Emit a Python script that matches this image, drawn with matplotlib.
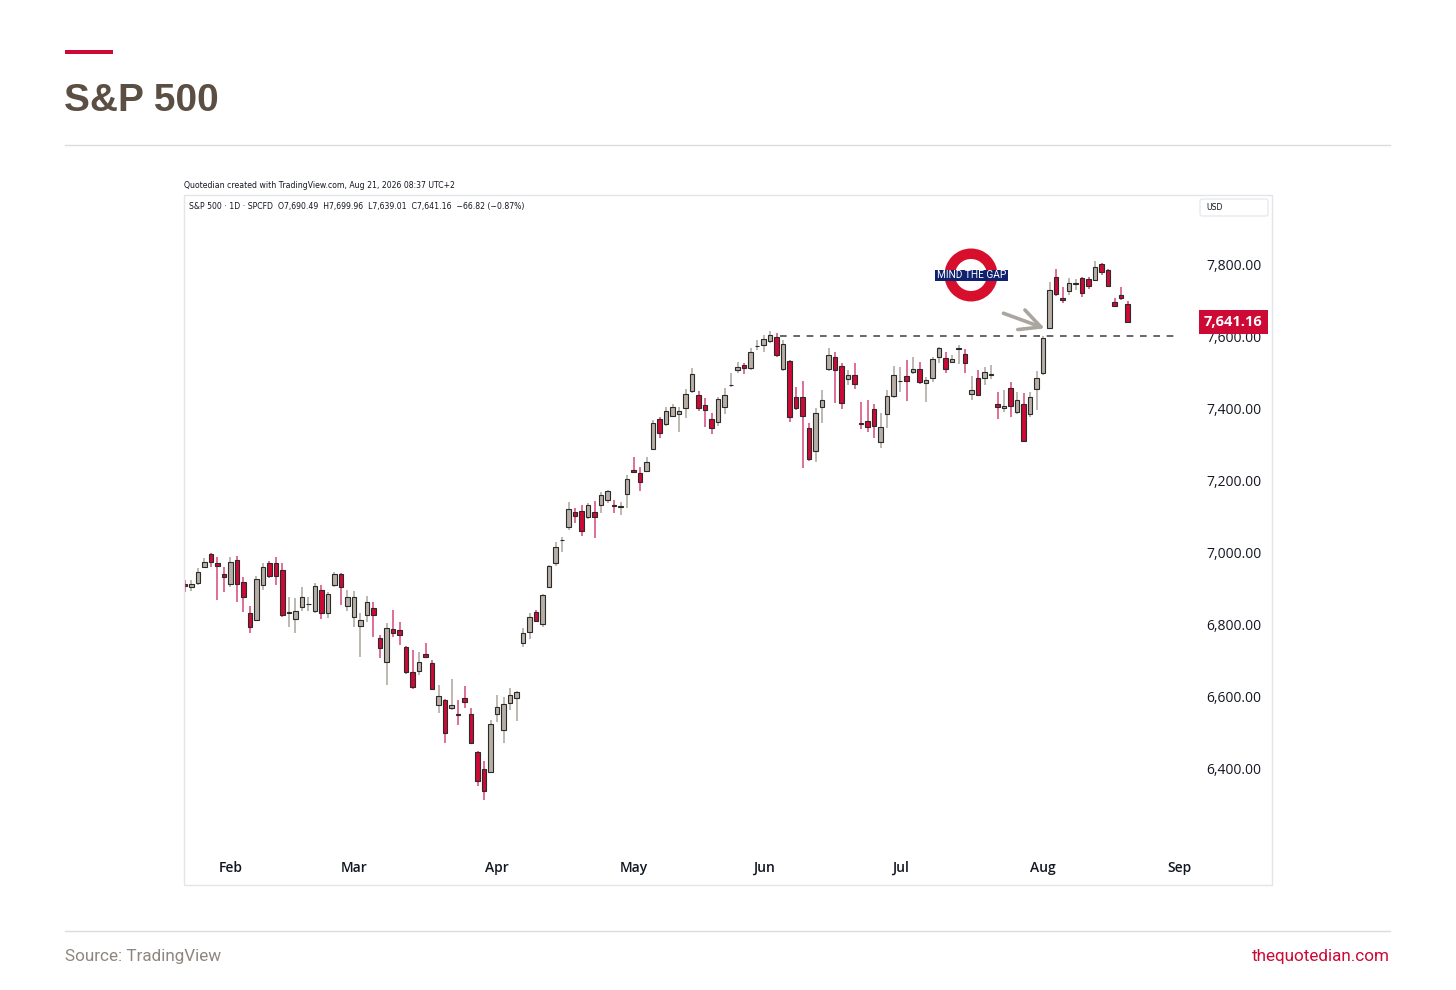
import matplotlib as mpl

mpl.use('agg')

import matplotlib.pyplot as plt
import matplotlib.patches as patches
import matplotlib.transforms as mtransforms
import pandas as pd

# daily candles, S&P 500 (SPCFD), 22 Jan - 20 Aug 2026
opens = [
    6915, 6905, 6918, 6960, 6997, 6973, 6943, 6913, 6980, 6920,
    6832, 6814, 6911, 6971, 6973, 6953, 6833, 6816, 6851, 6857,
    6839, 6897, 6832, 6910, 6942, 6853, 6821, 6797, 6828, 6847,
    6763, 6696, 6788, 6786, 6738, 6669, 6671, 6719, 6694, 6578,
    6592, 6570, 6553, 6597, 6553, 6448, 6400, 6393, 6553, 6508,
    6582, 6598, 6749, 6781, 6835, 6802, 6905, 6973, 7035, 7071,
    7113, 7117, 7099, 7115, 7132, 7147, 7133, 7129, 7164, 7231,
    7222, 7229, 7289, 7371, 7358, 7381, 7386, 7402, 7450, 7439,
    7410, 7371, 7365, 7405, 7466, 7507, 7522, 7515, 7574, 7578,
    7590, 7600, 7511, 7532, 7434, 7432, 7346, 7283, 7405, 7510,
    7544, 7519, 7483, 7494, 7361, 7368, 7399, 7308, 7386, 7436,
    7477, 7492, 7502, 7510, 7471, 7485, 7544, 7541, 7531, 7568,
    7553, 7442, 7485, 7485, 7495, 7414, 7402, 7458, 7391, 7414,
    7385, 7456, 7499, 7624, 7766, 7707, 7729, 7748, 7763, 7760,
    7758, 7802, 7785, 7697, 7716, 7690.49]
highs = [
    6925, 6925, 6957, 6985, 7000, 6990, 6962, 6990, 6992, 6934,
    6854, 6935, 6971, 6978, 6990, 6971, 6879, 6874, 6905, 6879,
    6916, 6911, 6893, 6948, 6945, 6897, 6895, 6832, 6881, 6865,
    6772, 6805, 6842, 6807, 6742, 6731, 6726, 6750, 6703, 6633,
    6595, 6650, 6592, 6631, 6569, 6450, 6423, 6536, 6606, 6599,
    6624, 6618, 6791, 6832, 6842, 6886, 6968, 7031, 7045, 7143,
    7124, 7133, 7138, 7144, 7170, 7176, 7147, 7143, 7217, 7268,
    7240, 7268, 7369, 7379, 7405, 7415, 7406, 7455, 7513, 7450,
    7430, 7388, 7432, 7457, 7499, 7531, 7529, 7569, 7592, 7606,
    7618, 7610, 7592, 7535, 7462, 7479, 7360, 7402, 7453, 7569,
    7559, 7527, 7508, 7527, 7420, 7425, 7414, 7388, 7453, 7519,
    7517, 7536, 7545, 7531, 7490, 7545, 7573, 7559, 7550, 7578,
    7566, 7492, 7508, 7517, 7522, 7448, 7453, 7476, 7448, 7444,
    7448, 7506, 7603, 7754, 7788, 7740, 7763, 7760, 7766, 7768,
    7812, 7806, 7788, 7707, 7738, 7699.96]
lows = [
    6893, 6895, 6911, 6957, 6962, 6869, 6893, 6905, 6865, 6837,
    6779, 6810, 6897, 6930, 6911, 6822, 6794, 6777, 6840, 6840,
    6832, 6817, 6820, 6905, 6856, 6840, 6795, 6710, 6809, 6768,
    6707, 6633, 6768, 6744, 6665, 6621, 6661, 6708, 6619, 6556,
    6472, 6564, 6522, 6569, 6471, 6353, 6314, 6390, 6531, 6473,
    6564, 6532, 6738, 6760, 6808, 6795, 6902, 6964, 7004, 7064,
    7082, 7047, 7095, 7043, 7110, 7140, 7110, 7106, 7124, 7222,
    7172, 7225, 7286, 7319, 7353, 7378, 7337, 7374, 7444, 7395,
    7351, 7331, 7353, 7386, 7462, 7499, 7497, 7508, 7564, 7559,
    7582, 7545, 7505, 7365, 7398, 7235, 7255, 7254, 7360, 7505,
    7416, 7399, 7467, 7455, 7344, 7337, 7319, 7291, 7346, 7430,
    7448, 7423, 7498, 7470, 7420, 7476, 7527, 7501, 7527, 7524,
    7499, 7425, 7435, 7467, 7483, 7371, 7393, 7377, 7385, 7308,
    7378, 7397, 7495, 7622, 7715, 7695, 7717, 7731, 7712, 7732,
    7755, 7772, 7738, 7684, 7702, 7639.01]
closes = [
    6909, 6914, 6946, 6975, 6974, 6965, 6934, 6974, 6914, 6877,
    6794, 6928, 6960, 6937, 6936, 6828, 6836, 6839, 6877, 6859,
    6907, 6832, 6886, 6943, 6905, 6877, 6877, 6814, 6865, 6828,
    6735, 6791, 6779, 6772, 6669, 6627, 6696, 6711, 6622, 6604,
    6501, 6578, 6551, 6587, 6473, 6367, 6340, 6524, 6572, 6580,
    6606, 6613, 6779, 6821, 6812, 6882, 6964, 7018, 7037, 7122,
    7104, 7060, 7133, 7101, 7160, 7171, 7131, 7131, 7205, 7224,
    7196, 7254, 7360, 7333, 7394, 7406, 7395, 7441, 7497, 7404,
    7397, 7348, 7428, 7439, 7468, 7516, 7515, 7557, 7576, 7594,
    7606, 7550, 7580, 7379, 7402, 7381, 7261, 7388, 7425, 7550,
    7507, 7416, 7494, 7469, 7359, 7351, 7353, 7349, 7436, 7494,
    7479, 7479, 7511, 7474, 7481, 7539, 7569, 7510, 7539, 7570,
    7529, 7453, 7438, 7504, 7497, 7405, 7408, 7408, 7424, 7312,
    7432, 7485, 7596, 7731, 7719, 7703, 7751, 7750, 7722, 7742,
    7794, 7780, 7742, 7686, 7707.98, 7641.16]

holidays = ['2026-02-16', '2026-04-03', '2026-05-25', '2026-06-19', '2026-07-03']
month_names = ['Feb', 'Mar', 'Apr', 'May', 'Jun', 'Jul', 'Aug', 'Sep']
price_ticks = [6400, 6600, 6800, 7000, 7200, 7400, 7600, 7800]
gap_level = 7603

RED = '#cc0a35'
GREY_UP = '#b7afa5'
TEXT = '#131722'

plt.rcParams['font.family'] = ['Open Sans', 'DejaVu Sans']

days = pd.bdate_range('2026-01-22', '2026-09-04', freq='C', holidays=holidays)
month_idx = [int(pd.Series(days.month).eq(m).idxmax()) for m in range(2, 10)]

fig = plt.figure(figsize=(14.56, 9.9), dpi=100)
fig.patch.set_facecolor('white')
# pixel coordinates, origin top-left
px = mtransforms.Affine2D().scale(0.01, -0.01).translate(0, 9.9) + fig.dpi_scale_trans

# page header / footer
fig.add_artist(patches.Rectangle((65, 50), 48, 4, transform=px, color=RED, lw=0))
fig.text(64, 101, 'S&P 500', transform=px, fontsize=28, fontweight='bold',
         color='#5b4e42', family='Liberation Sans', va='center')
fig.add_artist(plt.Line2D([65, 1390], [145, 145], transform=px, color='#dcdcdc', lw=1))
fig.add_artist(plt.Line2D([65, 1390], [931, 931], transform=px, color='#dcdcdc', lw=1))
fig.text(65, 957, 'Source: TradingView', transform=px, fontsize=12.3, color='#8f867d',
         family='Roboto', va='center')
fig.text(1390, 957, 'thequotedian.com', transform=px, fontsize=12.3, color=RED,
         family='Roboto', va='center', ha='right')

# chart frame
fig.add_artist(patches.Rectangle((184, 195), 1088, 690, transform=px, fill=False,
                                 ec='#e3e5ea', lw=1))
fig.text(184, 186, 'Quotedian created with TradingView.com, Aug 21, 2026 08:37 UTC+2',
         transform=px, fontsize=5.6, color=TEXT, family='DejaVu Sans', va='center')
chg = closes[-1] - closes[-2]
hdr = ('S&P 500 \u00b7 1D \u00b7 SPCFD  O{:,.2f}  H{:,.2f}  L{:,.2f}  C{:,.2f}  '
       '\u2212{:.2f} (\u2212{:.2f}%)').format(opens[-1], highs[-1], lows[-1], closes[-1],
                                             -chg, -chg / closes[-2] * 100)
fig.text(189, 206, hdr, transform=px, fontsize=5.6, color=TEXT, family='DejaVu Sans',
         va='center')
fig.add_artist(patches.FancyBboxPatch((1200, 199), 68, 17, transform=px,
                                      boxstyle='round,pad=0,rounding_size=2',
                                      fc='white', ec='#e3e5ea', lw=0.8))
fig.text(1206, 208, 'USD', transform=px, fontsize=5.6, color=TEXT, family='DejaVu Sans',
         va='center')

# main price axes
ax = fig.add_axes([184 / 1456, 1 - 850 / 990, 1006 / 1456, 655 / 990])
for s in ax.spines.values():
    s.set_visible(False)
ax.set_xlim(-0.15, 154.6)
ax.set_ylim(6175, 7994.4)

n = len(closes)
xs = list(range(n))
up = [c >= o for o, c in zip(opens, closes)]
wick_col = [('#aba59d' if u else '#d4487a') for u in up]
ax.vlines(xs, lows, highs, colors=wick_col, lw=1.1, zorder=2)
bottoms = [min(o, c) for o, c in zip(opens, closes)]
heights = [max(abs(c - o), 1.5) for o, c in zip(opens, closes)]
ax.bar(xs, heights, bottom=bottoms, width=0.7,
       color=[(GREY_UP if u else RED) for u in up],
       edgecolor='#2a2a2a', lw=0.8, zorder=3)

# gap level
ax.hlines(gap_level, 91.5, 152.3, colors='#4d4d4d', lw=1.2, linestyles=(0, (4, 4)),
          zorder=1)
ax.annotate('', xy=(133 - 0.75, opens[133]), xytext=(133 - 7.1, opens[133] + 42),
            arrowprops=dict(arrowstyle='->,head_length=1.5,head_width=0.75',
                            color='#aaa59f', lw=2.6, shrinkA=0, shrinkB=0), zorder=4)

# mind the gap roundel
fig.add_artist(patches.Annulus((971, 275), 26.5, 10.5, transform=px, color='#d70f2c', lw=0))
fig.add_artist(patches.Rectangle((935, 269.5), 73, 11, transform=px, fc='#10216d', lw=0))
fig.text(971.5, 275.5, 'MIND THE GAP', transform=px, fontsize=7.3, color='white',
         family='Roboto', ha='center', va='center')

# axes ticks
ax.yaxis.tick_right()
ax.set_yticks(price_ticks)
ax.set_yticklabels(['{:,.2f}'.format(p) for p in price_ticks])
ax.tick_params(axis='y', length=0, pad=11.5, labelsize=10, labelcolor=TEXT)
ax.set_xticks(month_idx)
ax.set_xticklabels(month_names, fontweight='semibold')
ax.tick_params(axis='x', length=0, pad=8, labelsize=10, labelcolor=TEXT)

ax.text(1.0 + 14 / 1006, closes[-1], '{:,.2f}'.format(closes[-1]),
        transform=mtransforms.blended_transform_factory(ax.transAxes, ax.transData),
        fontsize=10.5, fontweight='bold', color='white', va='center', ha='left',
        clip_on=False, zorder=10,
        bbox=dict(boxstyle='square,pad=0.33', fc=RED, ec='none'))

fig.savefig('out.png', dpi=100, facecolor='white')
